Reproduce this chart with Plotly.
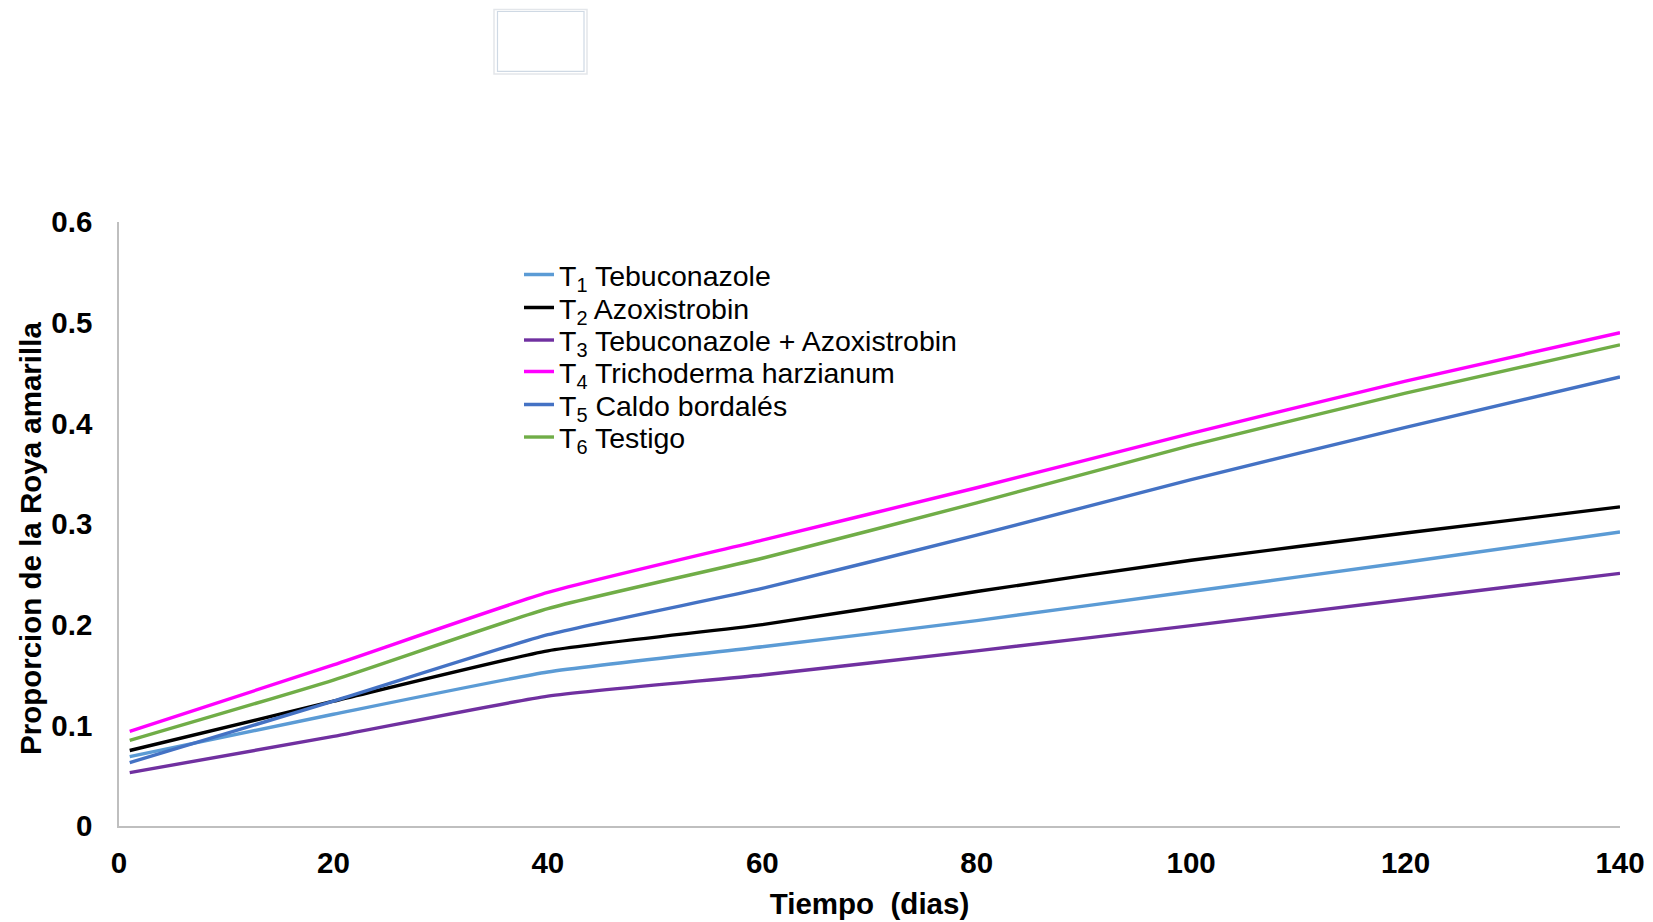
import plotly.graph_objects as go

days = [1, 20, 40, 60, 80, 100, 120, 140]

series_names = [
    "T<sub>1</sub> Tebuconazole",
    "T<sub>2</sub> Azoxistrobin",
    "T<sub>3</sub> Tebuconazole + Azoxistrobin",
    "T<sub>4</sub> Trichoderma harzianum",
    "T<sub>5</sub> Caldo bordalés",
    "T<sub>6</sub> Testigo",
]

t1_tebuconazole = [0.069, 0.111, 0.153, 0.178, 0.204, 0.233, 0.262, 0.292]
t2_azoxistrobin = [0.075, 0.124, 0.174, 0.200, 0.233, 0.264, 0.291, 0.317]
t3_tebu_azoxi = [0.053, 0.089, 0.129, 0.150, 0.174, 0.199, 0.225, 0.251]
t4_trichoderma = [0.094, 0.160, 0.232, 0.284, 0.336, 0.390, 0.442, 0.490]
t5_caldo = [0.063, 0.124, 0.190, 0.236, 0.289, 0.344, 0.396, 0.446]
t6_testigo = [0.085, 0.145, 0.216, 0.266, 0.321, 0.378, 0.430, 0.478]

series_values = [t1_tebuconazole, t2_azoxistrobin, t3_tebu_azoxi,
                 t4_trichoderma, t5_caldo, t6_testigo]
colors = ["#5B9BD5", "#000000", "#7030A0", "#FF00FF", "#4472C4", "#70AD47"]

x_ticks = [0, 20, 40, 60, 80, 100, 120, 140]
y_ticks = [0, 0.1, 0.2, 0.3, 0.4, 0.5, 0.6]
y_tick_labels = ["0", "0.1", "0.2", "0.3", "0.4", "0.5", "0.6"]
x_title = "Tiempo\u00a0\u00a0(dias)"
y_title = "Proporcion de la Roya amarilla"

FONT = "Liberation Sans, Arial, sans-serif"
W, H = 1653, 922
ML, MR, MT, MB = 111, 41, 214, 104
PW = W - ML - MR
PH = H - MT - MB


def px_x(v):
    return (v - ML) / PW


def px_y(v):
    return (H - MB - v) / PH


# legend entry centres (figure pixels)
legend_rows = [267, 300, 332.5, 364, 397, 429.5]
legend_left = 511

fig = go.Figure()
layout_legends = {}
for i, (name, vals, col) in enumerate(zip(series_names, series_values, colors)):
    key = "legend" if i == 0 else f"legend{i + 1}"
    fig.add_trace(go.Scatter(
        x=days, y=vals, name=name, mode="lines",
        line=dict(color=col, width=3.4, shape="spline", smoothing=0.5),
        cliponaxis=False, legend=key,
    ))
    layout_legends[key] = dict(
        x=px_x(legend_left), y=px_y(legend_rows[i]),
        xref="paper", yref="paper",
        xanchor="left", yanchor="middle",
        bgcolor="rgba(0,0,0,0)", borderwidth=0,
        font=dict(family=FONT, size=28.5, color="black"),
        itemwidth=30,
    )

bold = dict(family=FONT, size=29.5, color="black", weight="bold")

fig.update_layout(
    width=W, height=H,
    margin=dict(l=ML, r=MR, t=MT, b=MB, autoexpand=False),
    paper_bgcolor="white", plot_bgcolor="white",
    font=dict(family=FONT, color="black"),
    showlegend=True,
    xaxis=dict(
        range=[0, 140], tickmode="array", tickvals=x_ticks,
        showline=True, linecolor="#BFBFBF", linewidth=1.5,
        showgrid=False, zeroline=False, ticks="", ticklabelstandoff=10,
        tickfont=bold,
        title=dict(text=x_title, font=bold, standoff=15),
    ),
    yaxis=dict(
        range=[0, 0.6], tickmode="array", tickvals=y_ticks, ticktext=y_tick_labels,
        showline=True, linecolor="#BFBFBF", linewidth=1.5,
        showgrid=False, zeroline=False, ticks="", ticklabelstandoff=19,
        tickfont=bold,
    ),
    **layout_legends,
)

# y-axis title placed as rotated text (sits slightly below the plot centre)
fig.add_annotation(
    text=y_title, textangle=-90, showarrow=False,
    xref="paper", yref="paper", x=px_x(22), y=px_y(531),
    xanchor="center", yanchor="middle", font=bold,
)

# faint empty box at the top (artifact in the reference)
fig.add_shape(type="rect", xref="paper", yref="paper",
              x0=px_x(486), x1=px_x(579), y0=px_y(66), y1=px_y(1.5),
              line=dict(color="#E3E6EA", width=1.5))
fig.add_shape(type="rect", xref="paper", yref="paper",
              x0=px_x(489.5), x1=px_x(576), y0=px_y(63.3), y1=px_y(3.5),
              line=dict(color="#CFD9E4", width=1.2))

fig.write_html("out.html")
